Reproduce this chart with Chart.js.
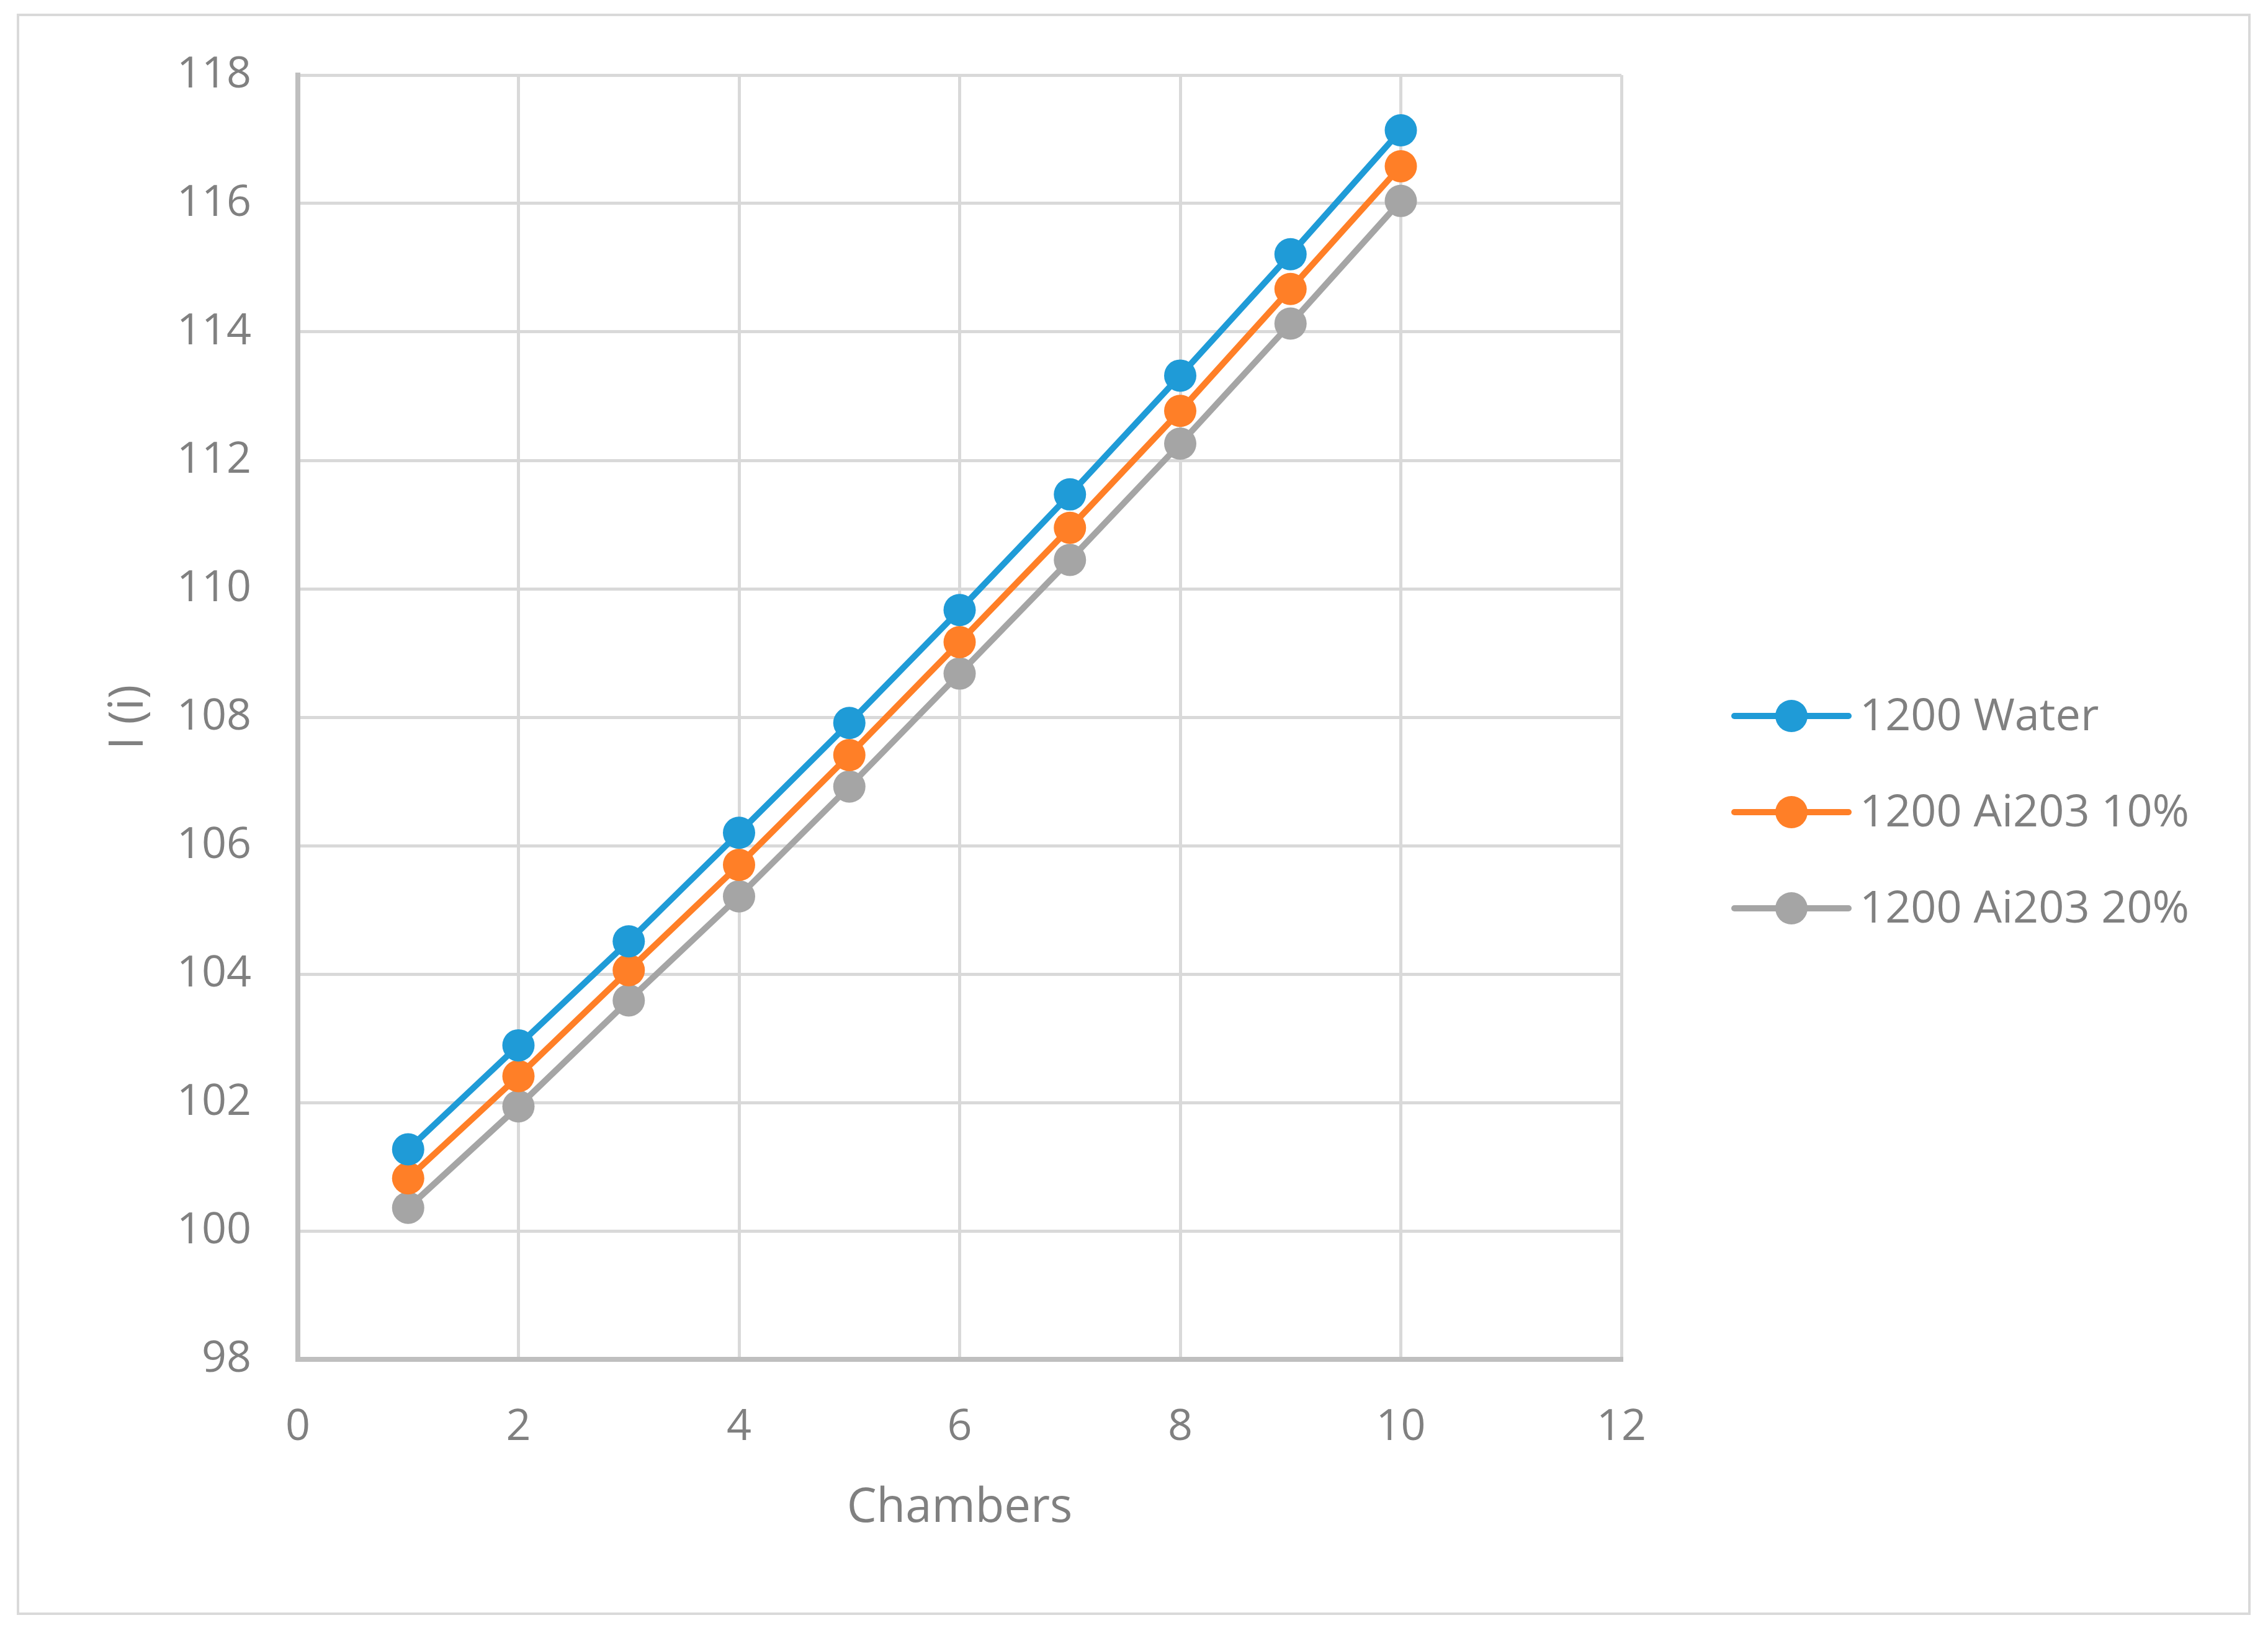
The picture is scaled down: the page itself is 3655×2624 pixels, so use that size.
<!DOCTYPE html>
<html>
<head>
<meta charset="utf-8">
<script src="https://cdn.jsdelivr.net/npm/chart.js@4.4.1/dist/chart.umd.min.js"></script>
<style>
  html, body { margin: 0; padding: 0; background: #fff; }
  #frame { position: absolute; left: 27px; top: 22px; width: 3592px; height: 2573px; border: 4px solid #d9d9d9; }
  #chart { position: absolute; left: 0; top: 0; }
</style>
</head>
<body>
<div id="frame"></div>
<canvas id="chart" width="3655" height="2624"></canvas>
<script>
// datos
const chambers = [1, 2, 3, 4, 5, 6, 7, 8, 9, 10];
const water = [101.27, 102.89, 104.51, 106.20, 107.91, 109.67, 111.47, 113.32, 115.21, 117.14];
const al10 = [100.82, 102.41, 104.06, 105.70, 107.41, 109.17, 110.95, 112.77, 114.67, 116.58];
const al20 = [100.36, 101.94, 103.59, 105.21, 106.92, 108.68, 110.45, 112.26, 114.13, 116.04];
const seriesNames = ["1200 Water", "1200 Ai203 10%", "1200 Ai203 20%"];
const seriesColors = ["#1f9bd7", "#ff7f27", "#a5a5a5"];

const textColor = "#808080";
const fontFamily = "'Open Sans', 'Noto Sans', sans-serif";

function toPoints(values) {
  return chambers.map((c, i) => ({ x: c, y: values[i] }));
}

// leyenda a la derecha: linea + circulo + texto
const sideLegend = {
  id: "sideLegend",
  afterDraw(chart) {
    const g = chart.ctx;
    const x0 = 2795, lineLen = 184, y0 = 1154, step = 155;
    g.save();
    g.font = "72px " + fontFamily;
    g.textBaseline = "middle";
    g.textAlign = "left";
    chart.data.datasets.forEach((ds, i) => {
      const y = y0 + i * step;
      g.strokeStyle = ds.borderColor;
      g.lineWidth = 10;
      g.lineCap = "round";
      g.beginPath();
      g.moveTo(x0, y);
      g.lineTo(x0 + lineLen, y);
      g.stroke();
      g.fillStyle = ds.borderColor;
      g.beginPath();
      g.arc(x0 + lineLen / 2, y, 26, 0, Math.PI * 2);
      g.fill();
      g.fillStyle = textColor;
      g.fillText(ds.label, x0 + lineLen + 18, y + 2);
    });
    g.restore();
  }
};

const allSeries = [water, al10, al20];
const datasets = allSeries.map((vals, i) => ({
  label: seriesNames[i],
  data: toPoints(vals),
  borderColor: seriesColors[i],
  backgroundColor: seriesColors[i],
  borderWidth: 10,
  pointRadius: 26,
  pointBorderWidth: 0,
  pointHoverRadius: 26,
  tension: 0,
  fill: false
}));

const ctx = document.getElementById("chart").getContext("2d");
new Chart(ctx, {
  type: "line",
  data: { datasets: datasets },
  options: {
    responsive: false,
    animation: false,
    devicePixelRatio: 1,
    layout: { padding: { left: 125, top: 121, right: 1042, bottom: 147 } },
    plugins: {
      tooltip: { enabled: false },
      legend: { display: false }
    },
    scales: {
      x: {
        type: "linear",
        min: 0,
        max: 12,
        afterFit: s => { s.height = 286; },
        ticks: { stepSize: 2, color: textColor, padding: 68, font: { family: fontFamily, size: 70 } },
        grid: { color: "#d9d9d9", lineWidth: 5, drawTicks: false },
        border: { color: "#bfbfbf", width: 8 },
        title: { display: true, text: "Chambers", color: textColor, font: { family: fontFamily, size: 76 }, padding: { top: 0, bottom: 0 } }
      },
      y: {
        min: 98,
        max: 118,
        afterFit: s => { s.width = 355; },
        ticks: { stepSize: 2, color: textColor, padding: 75, font: { family: fontFamily, size: 70 } },
        grid: { color: "#d9d9d9", lineWidth: 5, drawTicks: false },
        border: { color: "#bfbfbf", width: 8 },
        title: { display: true, text: "I (i)", color: textColor, font: { family: fontFamily, size: 76 }, padding: { top: 38, bottom: 0 } }
      }
    }
  },
  plugins: [sideLegend]
});
</script>
</body>
</html>
